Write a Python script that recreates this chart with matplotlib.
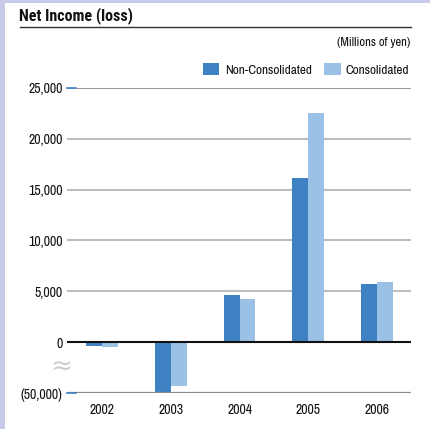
import matplotlib
matplotlib.use("Agg")
import matplotlib.pyplot as plt
import numpy as np
from matplotlib.lines import Line2D
from matplotlib.patches import Rectangle

plt.rcParams["font.family"] = ["Archivo Narrow", "DejaVu Sans"]

# Net income (loss), millions of yen
years = ["2002", "2003", "2004", "2005", "2006"]
non_consolidated = [-330, -50000, 4630, 16140, 5710]
consolidated = [-660, -42500, 4230, 22540, 5910]
tick_values = [25000, 20000, 15000, 10000, 5000, 0, -50000]
tick_labels = ["25,000", "20,000", "15,000", "10,000", "5,000", "0", "(50,000)"]

C_NON = "#3F82C4"
C_CON = "#9BC1E6"
C_FRAME = "#C9CAE8"

# Broken value axis: true scale above BREAK, compressed below it
BREAK = -500.0
SQUEEZE = 4500.0 / 49500.0


def fwd(v):
    v = np.asarray(v, dtype=float)
    return np.where(v >= BREAK, v, BREAK + (v - BREAK) * SQUEEZE)


def inv(p):
    p = np.asarray(p, dtype=float)
    return np.where(p >= BREAK, p, BREAK + (p - BREAK) / SQUEEZE)


W, H = 430, 429
fig = plt.figure(figsize=(W / 100, H / 100), dpi=100)


def fx(px):
    return px / W


def fy(py):
    return 1 - py / H


# lavender page frame (left and top)
fig.patches.append(Rectangle((0, 0), fx(5), 1, transform=fig.transFigure,
                             facecolor=C_FRAME, edgecolor="none"))
fig.patches.append(Rectangle((0, fy(3)), 1, 3 / H, transform=fig.transFigure,
                             facecolor=C_FRAME, edgecolor="none"))

# heading
fig.text(fx(19), fy(16), "Net Income (loss)", fontsize=11.5, weight="bold",
         va="center", ha="left", color="#111111",
         family=["Roboto Condensed", "Archivo Narrow", "DejaVu Sans"])
fig.lines.append(Line2D([fx(20), fx(411)], [fy(26.5), fy(26.5)],
                        transform=fig.transFigure, color="#333333", lw=1.0))
fig.text(fx(410), fy(42), "(Millions of yen)", fontsize=9, va="center",
         ha="right", color="#111111")

# legend
fig.patches.append(Rectangle((fx(203), fy(75)), 16 / W, 12 / H,
                             transform=fig.transFigure, facecolor=C_NON, edgecolor="none"))
fig.text(fx(225), fy(70), "Non-Consolidated", fontsize=9.5, va="center",
         ha="left", color="#111111")
fig.patches.append(Rectangle((fx(324), fy(75)), 17 / W, 12 / H,
                             transform=fig.transFigure, facecolor=C_CON, edgecolor="none"))
fig.text(fx(346), fy(71), "Consolidated", fontsize=9.5, va="center",
         ha="left", color="#111111")

# plot area
ax = fig.add_axes([fx(67), fy(393), 344 / W, 305 / H])
ax.set_yscale("function", functions=(fwd, inv))
ax.set_ylim(-50000, 25000)
ax.set_xlim(-0.51, 4.495)

x = np.arange(len(years))
bw = 0.232
ax.bar(x - bw / 2, non_consolidated, width=bw, color=C_NON, zorder=3)
ax.bar(x + bw / 2, consolidated, width=bw, color=C_CON, zorder=3)

# horizontal rules
for v in tick_values:
    if v == 0:
        ax.axhline(v, color="#111111", lw=1.5, zorder=4)
    elif v == 25000:
        ax.axhline(v, color="#7A7A7A", lw=1.1, zorder=1)
    elif v == -50000:
        ax.axhline(v, color="#8A8A8A", lw=1.6, zorder=4)
    else:
        ax.axhline(v, color="#BDBDBD", lw=1.5, zorder=1)

# short blue marks at the ends of the value range
for v in (25000, -50000):
    ax.plot([0, 9 / 344], [v, v], transform=ax.get_yaxis_transform(),
            color=C_NON, lw=1.2, zorder=5, clip_on=False)

ax.set_yticks(tick_values)
ax.set_yticklabels(tick_labels)
ax.set_xticks(x)
ax.set_xticklabels(years)
ax.tick_params(axis="y", length=0, pad=3, labelsize=10, labelcolor="#111111")
ax.tick_params(axis="x", length=0, pad=7, labelsize=10, labelcolor="#111111")
ax.minorticks_off()
for s in ax.spines.values():
    s.set_visible(False)

# axis break marker
ax.text(-6 / 344, -21500, "≈", transform=ax.get_yaxis_transform(),
        fontsize=19, color="#CDCDCD", ha="center", va="center",
        family="DejaVu Sans")

fig.savefig("out.png", dpi=100)
